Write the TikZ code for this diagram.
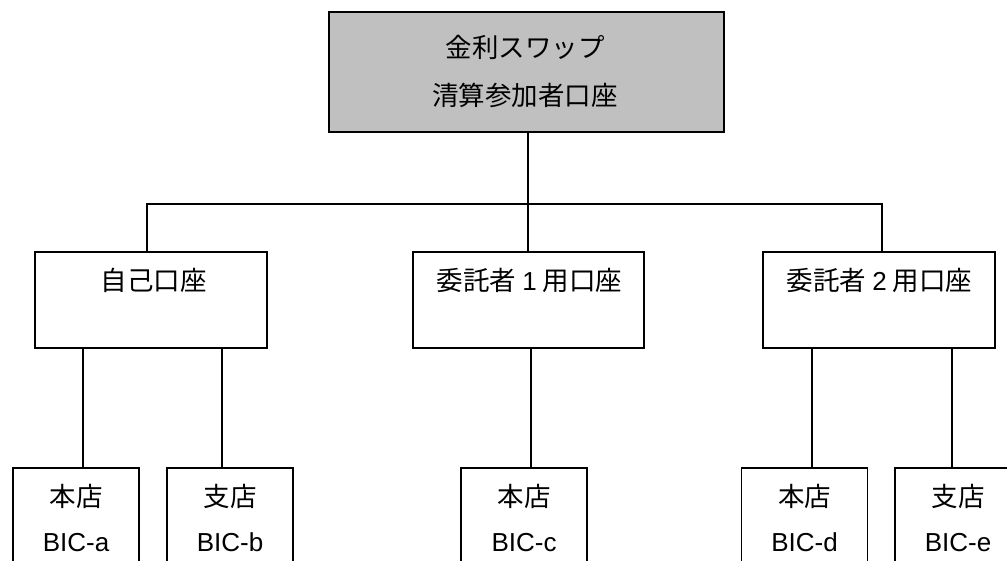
\documentclass[tikz,border=0pt]{standalone}
\usepackage{fontspec}
\setmainfont{Liberation Sans}
\newfontfamily\cjk{Noto Sans CJK JP}
\definecolor{boxgray}{RGB}{192,192,192}
\begin{document}
\begin{tikzpicture}[x=1pt,y=-1pt,
  box/.style={draw=black,line width=1.6pt,inner sep=0pt},
  topbox/.style={box,fill=boxgray,minimum width=395pt,minimum height=120pt},
  midbox/.style={box,minimum width=232pt,minimum height=96pt},
  leafbox/.style={box,minimum width=126pt,minimum height=200pt},
  jp/.style={font=\fontsize{26.5}{30}\selectfont\cjk,inner sep=0pt},
  lat/.style={font=\fontsize{26}{30}\selectfont,inner sep=0pt},
  link/.style={line width=1.6pt}]
\clip (0,0) rectangle (1007,561);
\fill[white] (0,0) rectangle (1007,561);
% top
\node[topbox] (top) at (526.5,72) {};
\node[jp] (t1) at (525,47) {金利スワップ};
\node[jp] (t2) at (525,95) {清算参加者口座};
% middle
\node[midbox] (m1) at (151,300) {};
\node[midbox,minimum width=231pt] (m2) at (528.5,300) {};
\node[midbox] (m3) at (879,300) {};
\node[jp] (m1t) at (153.5,280) {自己口座};
\node[jp] (m2t) at (529.5,280) {委託者 {\fontsize{26}{30}\selectfont\rmfamily 1} 用口座};
\node[jp] (m3t) at (879.5,280) {委託者 {\fontsize{26}{30}\selectfont\rmfamily 2} 用口座};
% leaves
\node[leafbox] (ba) at (76,568) {};
\node[leafbox] (bb) at (230,568) {};
\node[leafbox] (bc) at (524,568) {};
\node[leafbox] (bd) at (804.5,568) {};
\node[leafbox] (be) at (958,568) {};
\foreach \n/\k/\c in {ba/本店/a,bb/支店/b,bc/本店/c,bd/本店/d,be/支店/e}{
  \node[jp] (\n k) at ([yshift=-29pt]\n.north) {\k};
  \node[lat] (\n c) at ([yshift=-75pt]\n.north) {BIC-\c};
}
% connectors
\coordinate (bus) at (528,204);
\draw[link] (bus |- top.south) -- (bus);
\draw[link] ([xshift=-4pt]m1.north) -- ([xshift=-4pt]m1.north |- bus) -| ([xshift=3pt]m3.north);
\draw[link] (bus) -- (bus |- m2.north);
\draw[link] ([xshift=7pt]ba.north) -- ([xshift=7pt]ba.north |- m1.south);
\draw[link] ([xshift=-8pt]bb.north) -- ([xshift=-8pt]bb.north |- m1.south);
\draw[link] ([xshift=7pt]bc.north) -- ([xshift=7pt]bc.north |- m2.south);
\draw[link] ([xshift=7.5pt]bd.north) -- ([xshift=7.5pt]bd.north |- m3.south);
\draw[link] ([xshift=-6pt]be.north) -- ([xshift=-6pt]be.north |- m3.south);
\end{tikzpicture}
\end{document}
